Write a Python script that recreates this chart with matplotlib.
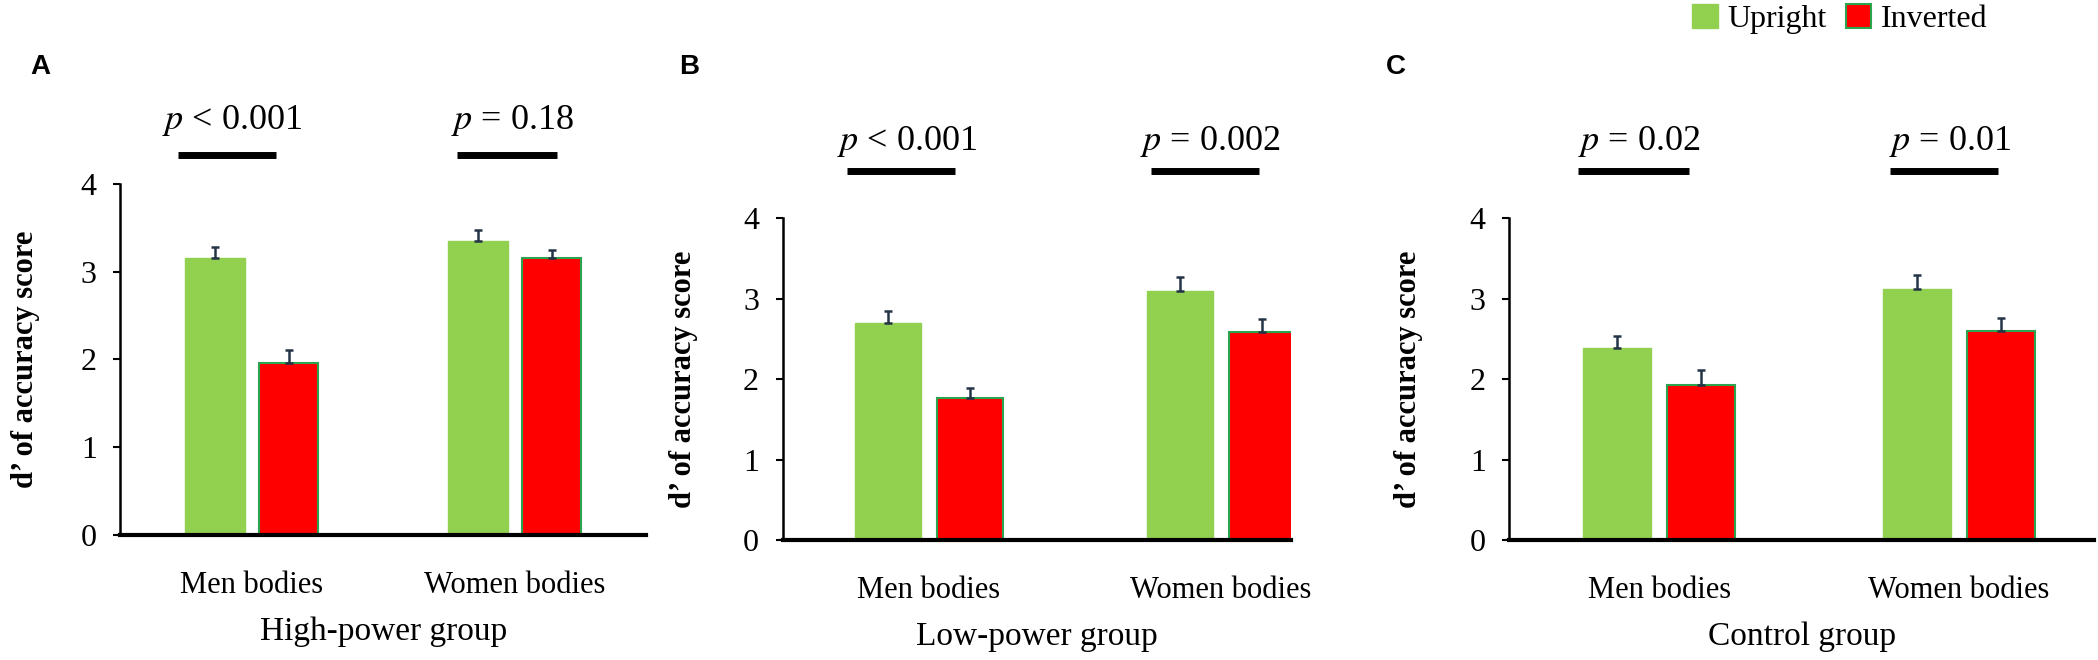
import matplotlib
matplotlib.use("Agg")
import matplotlib.pyplot as plt
from matplotlib.patches import Patch

categories = ["Men bodies", "Women bodies"]
groups = ["High-power group", "Low-power group", "Control group"]
panel_letters = ["A", "B", "C"]
upright = [[3.15, 3.35], [2.70, 3.09], [2.38, 3.12]]
upright_err = [[0.13, 0.12], [0.15, 0.18], [0.16, 0.17]]
inverted = [[1.96, 3.16], [1.77, 2.58], [1.93, 2.60]]
inverted_err = [[0.15, 0.09], [0.12, 0.16], [0.18, 0.16]]
p_texts = [["< 0.001", "= 0.18"], ["< 0.001", "= 0.002"], ["= 0.02", "= 0.01"]]
yticks = [0, 1, 2, 3, 4]

GREEN = "#92d050"
RED = "#ff0000"
EDGE = "#2ea34f"
ERR = "#243447"
SERIF = "Liberation Serif"

fig = plt.figure(figsize=(20.98, 6.6), dpi=100)
W, H = 1568, 1568
rects = [
    (90, 483, 1270, 437, 1.5),
    (585, 965, 1283, 518, 1.24),
    (1128, 1565, 1283, 518, 1.45),
]
line_y = [4.33, 4.58, 4.58]
text_y = [4.72, 4.95, 4.95]
line_spans = [[(-0.28, 0.09), (-0.22, 0.16)],
              [(-0.28, 0.09), (-0.24, 0.13)],
              [(-0.27, 0.10), (-0.23, 0.13)]]
ylabel_x = [8, 500, 1042]
letter_x = [30, 515, 1043]

for i in range(3):
    x0, x1, yb, yt, xr = rects[i]
    ax = fig.add_axes([x0 / W, 1 - yb / H, (x1 - x0) / W, (yb - yt) / H])
    xs = [0, 1]
    w = 0.225
    ax.bar([x - 0.14 for x in xs], upright[i], w, color=GREEN, edgecolor=GREEN,
           yerr=[[0, 0], upright_err[i]], error_kw=dict(ecolor=ERR, capsize=3, elinewidth=1.8, capthick=1.8), zorder=2)
    ax.bar([x + 0.14 for x in xs], inverted[i], w, color=RED, edgecolor=EDGE, linewidth=1.5,
           yerr=[[0, 0], inverted_err[i]], error_kw=dict(ecolor=ERR, capsize=3, elinewidth=1.8, capthick=1.8), zorder=2)
    ax.set_xlim(-0.5, xr)
    ax.set_ylim(0, 4)
    ax.set_yticks(yticks)
    ax.set_yticklabels([str(t) for t in yticks], fontfamily=SERIF, fontsize=23)
    ax.set_xticks(xs)
    ax.set_xticklabels(categories, fontfamily=SERIF, fontsize=22)
    ax.tick_params(axis="x", length=0, pad=26)
    ax.tick_params(axis="y", length=5, width=1.5, pad=12)
    for s in ["top", "right"]:
        ax.spines[s].set_visible(False)
    ax.spines["left"].set_linewidth(1.8)
    ax.spines["bottom"].set_linewidth(3)
    ax.set_xlabel(groups[i], fontfamily=SERIF, fontsize=24, labelpad=12)
    for j in range(2):
        a, b = line_spans[i][j]
        a += j
        b += j
        ax.plot([a, b], [line_y[i], line_y[i]], color="black", lw=5, clip_on=False, solid_capstyle="butt")
        ax.text((a + b) / 2 + 0.02, text_y[i], "$p$ " + p_texts[i][j], ha="center", va="center",
                fontfamily=SERIF, fontsize=26, clip_on=False, math_fontfamily="stix")
    fig.text(ylabel_x[i] / W, 1 - ((yb + yt) / 2) / H,
             r"$\boldsymbol{d}$" + "\u2019 of accuracy score" if False else "d\u2019 of accuracy score",
             rotation=90, ha="left", va="center", fontfamily=SERIF, fontweight="bold",
             fontstyle="normal", fontsize=22)
    fig.text(letter_x[i] / W, 1 - 160 / H, panel_letters[i], fontfamily="Liberation Sans",
             fontweight="bold", fontsize=20, ha="center", va="center")

handles = [Patch(facecolor=GREEN, edgecolor=GREEN), Patch(facecolor=RED, edgecolor=EDGE, linewidth=1.5)]
fig.legend(handles, ["Upright", "Inverted"], loc="center", bbox_to_anchor=(1375 / W, 1 - 45 / H),
           ncol=2, frameon=False, prop=dict(family=SERIF, size=23),
           handlelength=0.8, handleheight=0.8, handletextpad=0.3, columnspacing=0.6)

fig.savefig("out.png", dpi=100)
